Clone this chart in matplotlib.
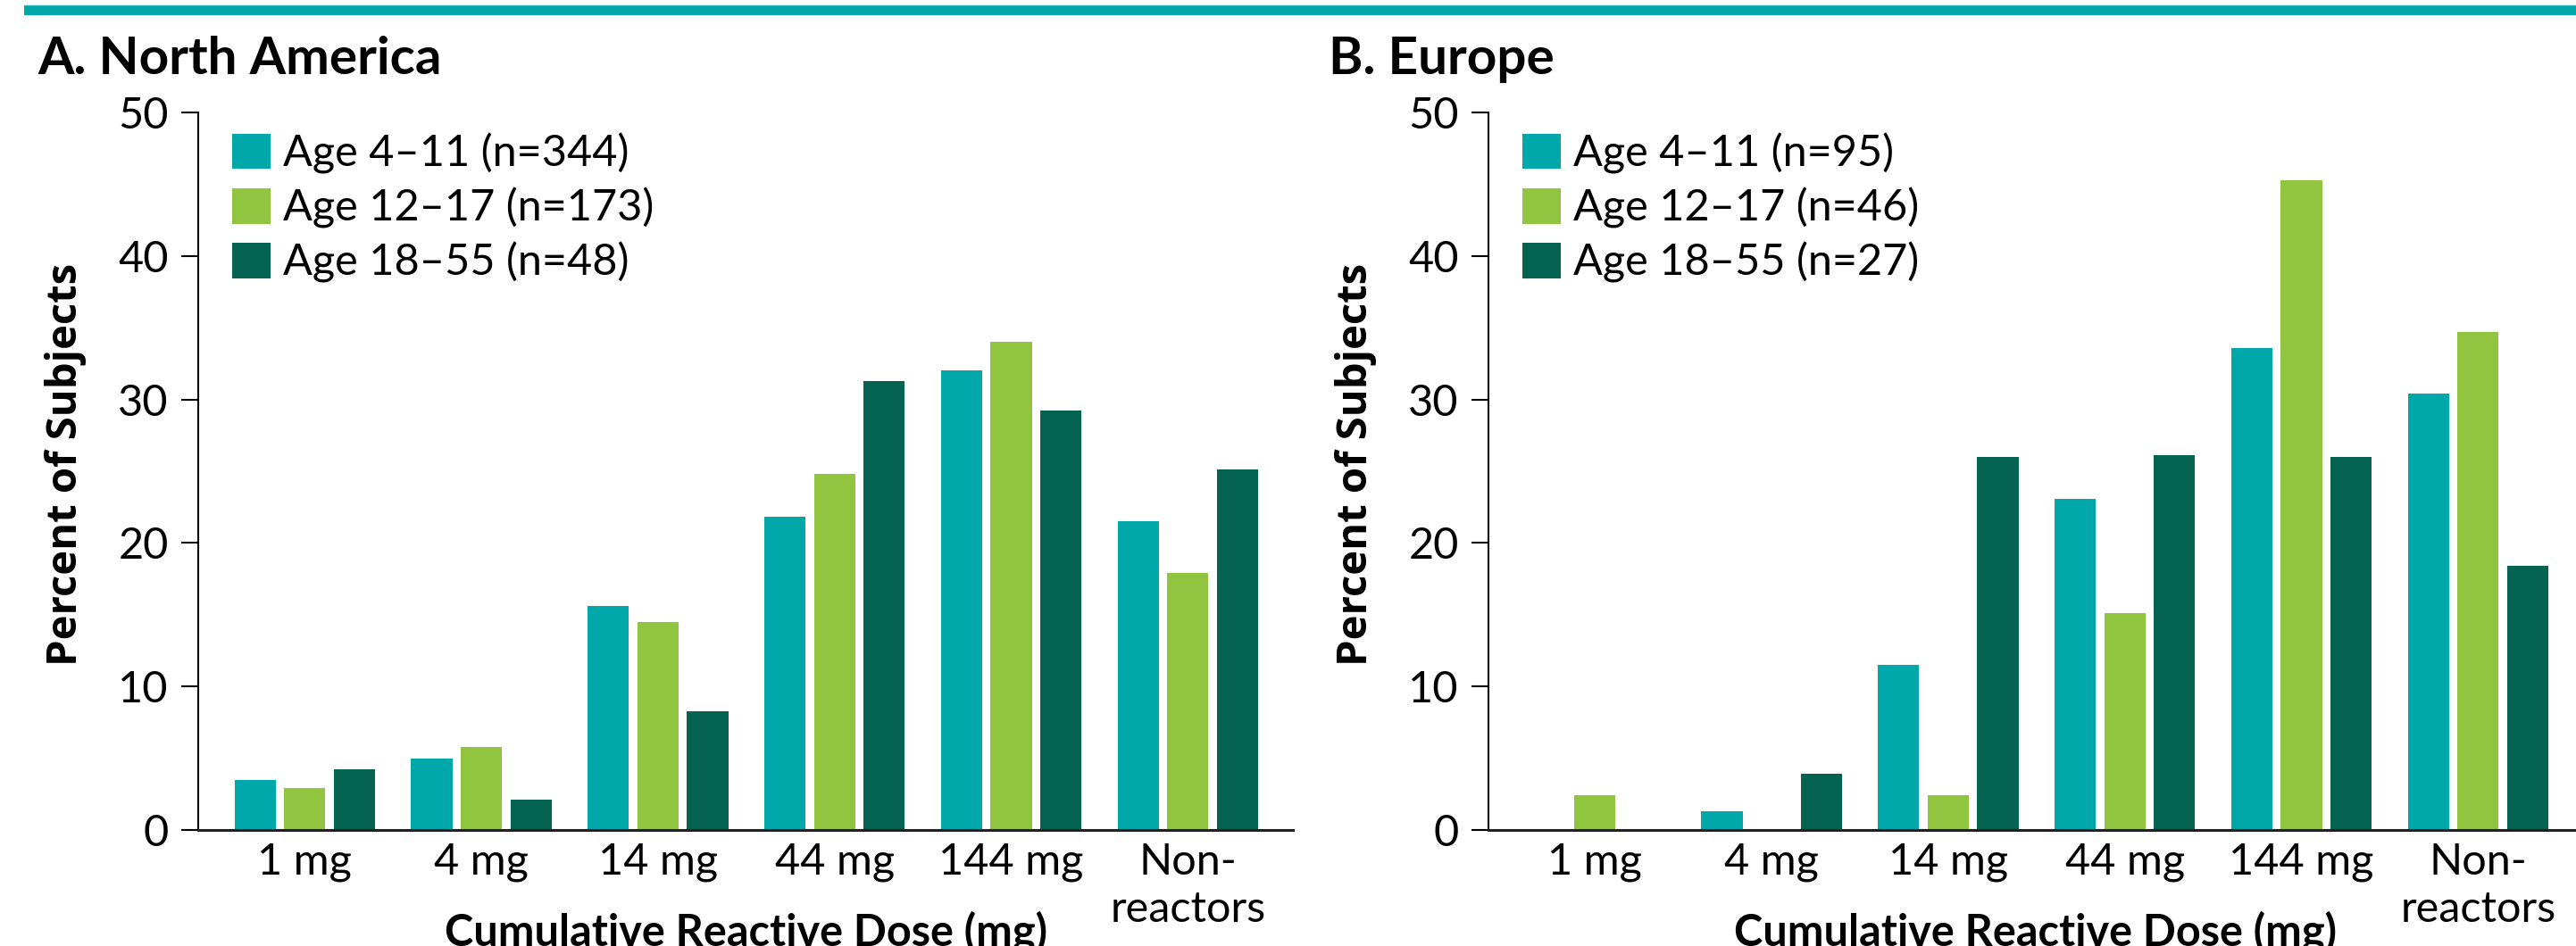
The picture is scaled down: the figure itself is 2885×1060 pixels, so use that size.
import matplotlib
matplotlib.use('Agg')
import matplotlib.pyplot as plt
from matplotlib.lines import Line2D
from matplotlib.patches import Rectangle
import numpy as np

plt.rcParams['font.family'] = ['Lato', 'DejaVu Sans']

# doses on the x axis
dosis = ['1 mg', '4 mg', '14 mg', '44 mg', '144 mg', 'Non-\nreactors']

# percent of subjects per age group, North America
na_4_11 = [3.5, 5.0, 15.6, 21.8, 32.0, 21.5]
na_12_17 = [2.9, 5.8, 14.5, 24.8, 34.0, 17.9]
na_18_55 = [4.2, 2.1, 8.3, 31.3, 29.2, 25.1]
na_etiquetas = ['Age 4\u201311 (n=344)', 'Age 12\u201317 (n=173)', 'Age 18\u201355 (n=48)']

# percent of subjects per age group, Europe
eu_4_11 = [0.0, 1.3, 11.5, 23.1, 33.6, 30.4]
eu_12_17 = [2.4, 0.0, 2.4, 15.1, 45.3, 34.7]
eu_18_55 = [0.0, 3.9, 26.0, 26.1, 26.0, 18.4]
eu_etiquetas = ['Age 4\u201311 (n=95)', 'Age 12\u201317 (n=46)', 'Age 18\u201355 (n=27)']

colores = ['#00A8AA', '#92C53F', '#056351']
ancho = 0.234
paso = 0.281
tam = 35

fig = plt.figure(figsize=(28.85, 10.6), dpi=100)

# teal rule across the top
fig.add_artist(Rectangle((27 / 2885, 1 - 17 / 1060), 1, 12 / 1060, transform=fig.transFigure,
                         color='#00A8AA', lw=0))
fig.add_artist(Line2D([27 / 2885, 1], [1 - 4.5 / 1060] * 2, transform=fig.transFigure,
                      color='#D5ECEC', lw=1))


def graficar(ax, series, etiquetas, titulo, xt):
    x = np.arange(len(dosis))
    for i, (serie, col, lab) in enumerate(zip(series, colores, etiquetas)):
        ax.bar(x + (i - 1) * paso, serie, ancho, color=col, label=lab, zorder=2)
    ax.set_xlim(-0.603, 5.595)
    ax.set_ylim(0, 50)
    ax.set_yticks([0, 10, 20, 30, 40, 50])
    ax.set_xticks(x)
    ax.set_xticklabels(dosis, fontsize=tam, linespacing=1.25)
    ax.tick_params(axis='x', length=0, pad=10)
    ax.tick_params(axis='y', length=14, width=1.5, labelsize=tam, pad=10, direction='out')
    for s in ['top', 'right', 'bottom']:
        ax.spines[s].set_visible(False)
    ax.spines['left'].set_linewidth(1.5)
    ax.axhline(0, color='#231F20', lw=2.2, zorder=3, clip_on=False)
    ax.set_ylabel('Percent of Subjects', fontsize=34, fontweight='bold',
                  family=['Open Sans', 'DejaVu Sans'])
    ax.yaxis.set_label_coords(-0.102, 0.51)
    ax.set_xlabel('Cumulative Reactive Dose (mg)', fontsize=tam, fontweight='bold')
    ax.xaxis.set_label_coords(0.5, -0.112)
    ax.legend(loc='upper left', bbox_to_anchor=(0.031, 0.972), frameon=False, fontsize=tam,
              handlelength=0.88, handleheight=0.88, handletextpad=0.3, labelspacing=0.31,
              borderpad=0, borderaxespad=0)
    fig.text(xt, 977 / 1060, titulo, fontsize=42, fontweight='bold', va='baseline')


ax1 = fig.add_axes([222 / 2885, 130 / 1060, 1226 / 2885, 804 / 1060])
graficar(ax1, [na_4_11, na_12_17, na_18_55], na_etiquetas, 'A. North America', 42 / 2885)

ax2 = fig.add_axes([1667 / 2885, 130 / 1060, 1226 / 2885, 804 / 1060])
graficar(ax2, [eu_4_11, eu_12_17, eu_18_55], eu_etiquetas, 'B. Europe', 1488 / 2885)

fig.savefig('out.png', dpi=100)
